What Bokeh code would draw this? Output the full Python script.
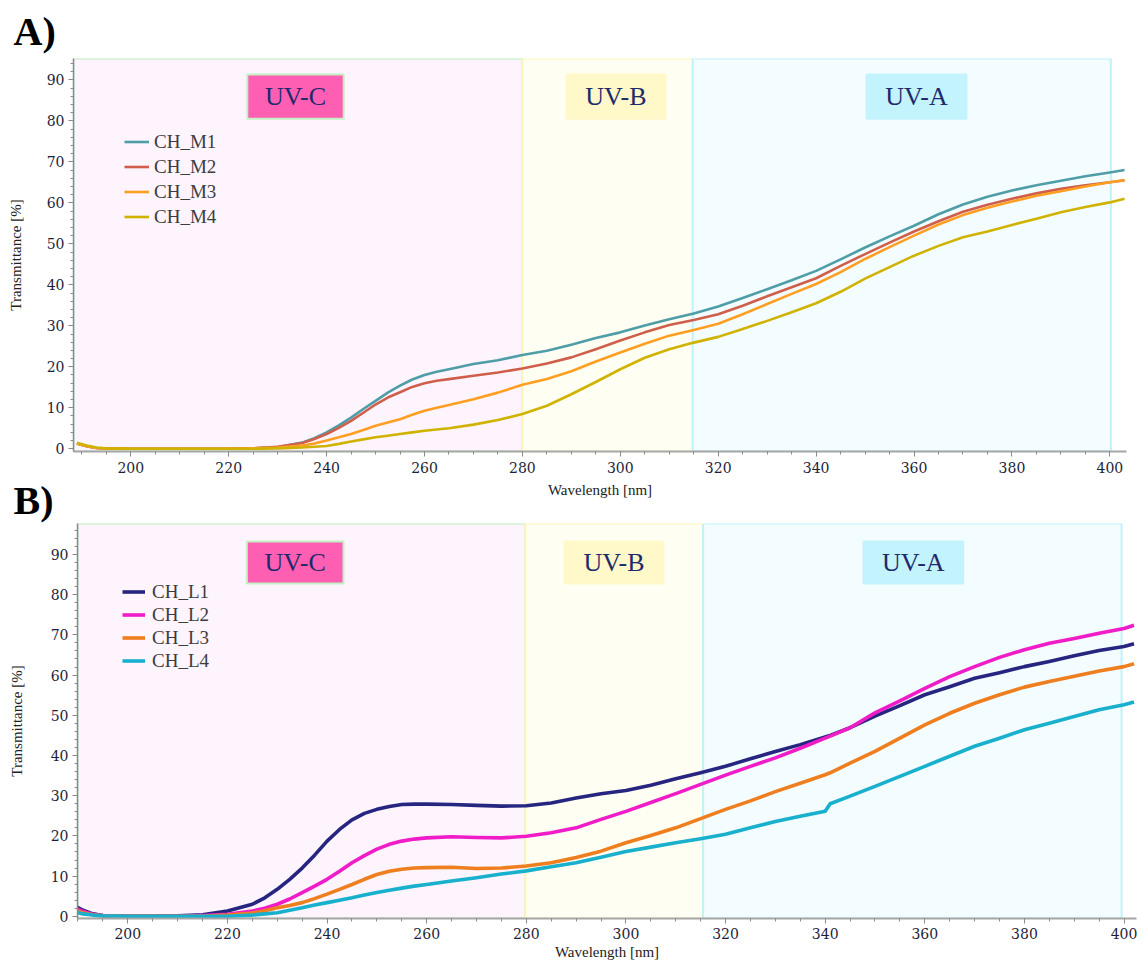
from bokeh.plotting import figure
from bokeh.layouts import column
from bokeh.models import Range1d, SingleIntervalTicker, Legend, LegendItem
from bokeh.core.properties import value
from bokeh.embed import file_html
from bokeh.resources import INLINE

# ---------------- data: panel A ----------------
wl_A = [189, 191, 193, 195, 200, 205, 210, 215, 220, 225, 230, 235,
        237.5, 240, 242.5, 245, 247.5, 250, 252.5, 255, 257.5, 260, 262.5, 265,
        270, 275, 280, 285, 290, 295, 300, 305, 310, 315, 320, 325, 330, 335,
        340, 345, 350, 355, 360, 365, 370, 375, 380, 385, 390, 395, 400, 403]
ch_m1 = [1.3, 0.6, 0.2, 0.1, 0, 0, 0, 0, 0, 0.1, 0.4, 1.5,
         2.6, 4.0, 5.7, 7.6, 9.7, 11.7, 13.7, 15.4, 16.9, 18.0, 18.8, 19.4,
         20.7, 21.6, 22.9, 23.9, 25.4, 27.0, 28.4, 30.1, 31.6, 33.0, 34.7, 36.8, 38.9, 41.1,
         43.4, 46.2, 49.1, 51.8, 54.4, 57.2, 59.6, 61.5, 63.0, 64.3, 65.4, 66.5, 67.4, 68.0]
ch_m2 = [1.3, 0.6, 0.2, 0.1, 0, 0, 0, 0, 0, 0.1, 0.5, 1.4,
         2.4, 3.6, 5.1, 6.8, 8.8, 10.8, 12.5, 13.8, 15.1, 16.0, 16.6, 17.0,
         17.8, 18.6, 19.6, 20.8, 22.3, 24.3, 26.4, 28.4, 30.2, 31.4, 32.8, 34.9, 37.2, 39.4,
         41.6, 44.6, 47.5, 50.3, 53.0, 55.5, 57.8, 59.5, 61.0, 62.3, 63.4, 64.3, 65.0, 65.5]
ch_m3 = [1.3, 0.6, 0.2, 0.1, 0, 0, 0, 0, 0, 0.1, 0.3, 0.8,
         1.3, 2.0, 2.8, 3.6, 4.6, 5.6, 6.4, 7.2, 8.3, 9.3, 10.0, 10.7,
         12.1, 13.7, 15.6, 17.0, 18.9, 21.3, 23.5, 25.6, 27.6, 29.0, 30.5, 32.8, 35.3, 37.8,
         40.2, 43.1, 46.3, 49.2, 52.0, 54.7, 57.0, 58.8, 60.3, 61.7, 62.8, 64.0, 65.0, 65.5]
ch_m4 = [1.5, 0.8, 0.3, 0.1, 0, 0, 0, 0, 0, 0, 0.1, 0.3,
         0.5, 0.7, 1.2, 1.8, 2.3, 2.8, 3.2, 3.6, 4.0, 4.4, 4.7, 5.0,
         5.9, 7.0, 8.5, 10.5, 13.3, 16.3, 19.4, 22.2, 24.3, 25.9, 27.3, 29.2, 31.2, 33.3,
         35.5, 38.3, 41.5, 44.3, 47.1, 49.5, 51.6, 53.0, 54.6, 56.1, 57.7, 59.0, 60.1, 61.0]
names_A = ["CH_M1", "CH_M2", "CH_M3", "CH_M4"]

# ---------------- data: panel B ----------------
wl_B = [189, 191, 193, 195, 200, 205, 210, 215, 220, 225,
        227.5, 230, 232.5, 235, 237.5, 240, 242.5, 245, 247.5, 250, 252.5, 255, 257.5,
        260, 265, 270, 275, 280, 285, 290, 295, 300, 305, 310, 315, 320, 325, 330, 335, 340,
        341, 345, 350, 355, 360, 365, 370, 375, 380, 385, 390, 395, 400, 402]
ch_l1 = [2.8, 1.5, 0.6, 0.2, 0, 0, 0.1, 0.4, 1.3, 3.0,
         4.6, 6.7, 9.2, 12.0, 15.2, 18.7, 21.6, 24.0, 25.6, 26.6, 27.3, 27.8, 27.9,
         27.9, 27.8, 27.6, 27.4, 27.5, 28.2, 29.4, 30.5, 31.3, 32.6, 34.2, 35.7, 37.3, 39.2, 41.0, 42.7, 44.6,
         45.0, 46.9, 49.8, 52.4, 55.1, 57.1, 59.2, 60.6, 62.1, 63.4, 64.8, 66.1, 67.1, 67.8]
ch_l2 = [2.2, 1.2, 0.5, 0.2, 0, 0, 0, 0.2, 0.5, 1.3,
         2.0, 3.0, 4.3, 5.9, 7.5, 9.2, 11.2, 13.3, 15.1, 16.7, 17.9, 18.7, 19.2,
         19.5, 19.8, 19.6, 19.5, 19.9, 20.8, 22.0, 24.1, 26.1, 28.3, 30.5, 32.8, 35.1, 37.3, 39.4, 41.8, 44.3,
         44.8, 46.9, 50.6, 53.6, 56.7, 59.6, 62.1, 64.4, 66.3, 67.9, 69.1, 70.4, 71.6, 72.4]
ch_l3 = [1.6, 0.9, 0.4, 0.1, 0, 0, 0, 0, 0.3, 0.8,
         1.4, 2.1, 2.7, 3.4, 4.4, 5.5, 6.7, 7.9, 9.2, 10.4, 11.2, 11.7, 12.0,
         12.1, 12.2, 11.9, 12.0, 12.5, 13.3, 14.6, 16.2, 18.3, 20.1, 22.0, 24.3, 26.6, 28.7, 31.0, 33.1, 35.2,
         35.7, 38.1, 41.0, 44.3, 47.6, 50.5, 53.0, 55.1, 57.0, 58.4, 59.7, 61.0, 62.1, 62.8]
ch_l4 = [1.2, 0.6, 0.3, 0.1, 0, 0, 0, 0, 0, 0.3,
         0.6, 0.9, 1.5, 2.1, 2.8, 3.4, 4.0, 4.6, 5.3, 5.9, 6.5, 7.0, 7.5,
         7.9, 8.8, 9.6, 10.5, 11.3, 12.3, 13.3, 14.7, 16.1, 17.2, 18.3, 19.3, 20.4, 22.0, 23.6, 24.9, 26.1,
         28.0, 29.9, 32.3, 34.8, 37.3, 39.8, 42.3, 44.3, 46.4, 48.0, 49.7, 51.4, 52.6, 53.3]
names_B = ["CH_L1", "CH_L2", "CH_L3", "CH_L4"]

# ---------------- UV bands ----------------
band_names = ["UV-C", "UV-B", "UV-A"]
band_edges_A = [188.3, 280.0, 314.8, 400.2]
band_edges_B = [189.9, 279.8, 315.5, 399.5]

# ---------------- styles ----------------
colors_A = ["#4F9DA6", "#CF5F4B", "#FF9F22", "#D0B200"]
colors_B = ["#262680", "#F01CC8", "#EF7E1F", "#18B0CC"]
band_fill = ["#FDF4FD", "#FFFEF2", "#F3FCFF"]
band_line = ["#BDEDBF", "#FFF6BC", "#C0F2FC"]
tag_fill = ["#FF5FB3", "#FFF8C8", "#C3F3FC"]
tag_line = ["#C4F0C4", "#FFF8C8", "#C3F3FC"]
# label box extents (data coords): x0, x1, y0, y1
tags_A = [(223.8, 243.5, 80.5, 91.3), (289.0, 309.2, 80.5, 91.3), (350.3, 370.7, 80.5, 91.3)]
tags_B = [(223.9, 243.3, 82.8, 93.2), (287.7, 307.5, 82.8, 93.2), (347.7, 367.7, 82.8, 93.2)]

SERIF = "Liberation Serif"
TICKFONT = "DejaVu Serif"


def style_axes(p, ylab_standoff, x_tick_out, x_lab_standoff, x_axlab_standoff):
    xa = p.xaxis[0]
    ya = p.yaxis[0]
    xa.ticker = SingleIntervalTicker(interval=20, num_minor_ticks=4)
    ya.ticker = SingleIntervalTicker(interval=10, num_minor_ticks=5)
    xa.axis_label = "Wavelength [nm]"
    ya.axis_label = "Transmittance [%]"
    for ax in (xa, ya):
        ax.axis_label_text_font = SERIF
        ax.axis_label_text_font_size = "15px"
        ax.axis_label_text_font_style = "normal"
        ax.axis_label_text_color = "#222222"
        ax.major_label_text_font = TICKFONT
        ax.major_label_text_font_size = "14px"
        ax.major_label_text_color = "#1E1E3A"
        ax.major_tick_in = 0
        ax.minor_tick_in = 0
        ax.minor_tick_out = 3
        ax.major_tick_line_color = "#8A8A8A"
        ax.minor_tick_line_color = "#8A8A8A"
    xa.axis_line_color = "#A6A6A6"
    xa.axis_line_width = 2
    ya.axis_line_color = "#8A8A8A"
    ya.axis_line_width = 1.5
    xa.major_tick_out = x_tick_out
    xa.major_label_standoff = x_lab_standoff
    xa.axis_label_standoff = x_axlab_standoff
    ya.major_tick_out = 5
    ya.major_label_standoff = 4
    ya.axis_label_standoff = ylab_standoff


def build(wl, ys, names, colors, lw, xr, yr, height, borders, edges, tags,
          leg_loc, leg_h, leg_glyph_w, leg_standoff, ylab_standoff, xticks,
          letter, letter_offset, letter_standoff):
    p = figure(width=1137, height=height, x_range=Range1d(*xr), y_range=Range1d(*yr),
               output_backend="svg", toolbar_location=None, frame_align=False,
               min_border_left=borders[0], min_border_right=borders[1],
               min_border_top=borders[2], min_border_bottom=borders[3])
    p.grid.visible = False
    p.outline_line_color = None
    p.background_fill_color = "white"
    p.border_fill_color = "white"

    # panel letter as the figure title, pulled left of the frame
    p.title.text = letter
    p.title.align = "left"
    p.title.offset = letter_offset
    p.title.standoff = letter_standoff
    p.title.vertical_align = "bottom"
    p.title.text_font = SERIF
    p.title.text_font_size = "40px"
    p.title.text_font_style = "bold"
    p.title.text_color = "black"

    for i in range(3):
        p.quad(left=[edges[i]], right=[edges[i + 1]], bottom=[yr[0]], top=[yr[1]],
               fill_color=band_fill[i], line_color=band_line[i], line_width=2)
    for i in range(3):
        x0, x1, y0, y1 = tags[i]
        p.quad(left=[x0], right=[x1], bottom=[y0], top=[y1],
               fill_color=tag_fill[i], line_color=tag_line[i], line_width=2)
        p.text(x=[(x0 + x1) / 2], y=[(y0 + y1) / 2], text=[band_names[i]],
               text_align="center", text_baseline="middle",
               text_font=value(SERIF), text_font_size="26px", text_color="#1E2A6B")

    items = []
    for y, n, c in zip(ys, names, colors):
        r = p.line(wl, y, line_color=c, line_width=lw, line_join="round")
        items.append(LegendItem(label=n, renderers=[r]))

    leg = Legend(items=items, location=leg_loc, orientation="vertical",
                 glyph_width=leg_glyph_w, glyph_height=leg_h, label_height=leg_h,
                 label_standoff=leg_standoff, spacing=0, padding=0, margin=0,
                 border_line_alpha=0, background_fill_alpha=0,
                 label_text_font=SERIF, label_text_font_size="19px",
                 label_text_color="#3C3C3C")
    p.add_layout(leg)
    style_axes(p, ylab_standoff, *xticks)
    return p


pA = build(wl_A, [ch_m1, ch_m2, ch_m3, ch_m4], names_A, colors_A, 2.6,
           (188.3, 403.4), (-0.66, 95.2), 501, (73, 11, 58, 50),
           band_edges_A, tags_A, (51, 222), 25, 25, 5, 20, (5, 5, 6),
           "A)", -60, 10)
pB = build(wl_B, [ch_l1, ch_l2, ch_l3, ch_l4], names_B, colors_B, 3.6,
           (189.9, 402.5), (-0.55, 97.7), 491, (77, 1, 50, 46),
           band_edges_B, tags_B, (45, 246), 23, 23, 7, 23, (5, 4, 2),
           "B)", -64, 2)
# panel B slides up under the bottom margin of panel A (its margin is see-through)
pB.border_fill_alpha = 0
pB.margin = (-28, 0, 0, 0)

layout = column(pA, pB, spacing=0)
open("out.html", "w").write(file_html(layout, INLINE))
